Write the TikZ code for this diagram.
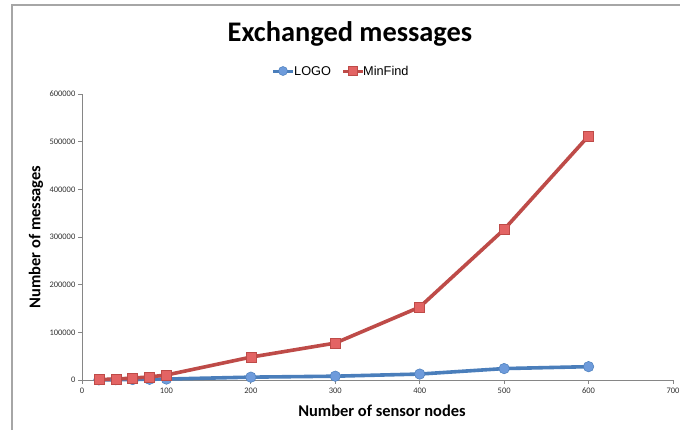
\documentclass[tikz,border=0pt]{standalone}
\usepackage{fontspec}
\setmainfont{Carlito}
\newfontfamily\arialfont{Liberation Sans}
\definecolor{framegray}{HTML}{A6A6A6}
\definecolor{axisgray}{HTML}{868686}
\definecolor{ticktext}{HTML}{303030}
\definecolor{logoline}{HTML}{4A7EBB}
\definecolor{logofill}{HTML}{6E9BDB}
\definecolor{findline}{HTML}{BE4B48}
\definecolor{findfill}{HTML}{E36464}
\begin{document}
\begin{tikzpicture}[x=1bp,y=-1bp,
  frame/.style={draw=framegray,line width=1.4bp},
  axisline/.style={draw=axisgray,line width=0.8bp},
  ticklab/.style={font=\fontsize{8.5}{9}\selectfont,text=ticktext,inner sep=0pt},
  axtitle/.style={font=\fontsize{16.5}{18}\selectfont\bfseries,inner sep=0pt},
  logoser/.style={draw=logoline,line width=3.6bp,line join=round},
  findser/.style={draw=findline,line width=3.6bp,line join=round},
  logomark/.style={circle,minimum size=10.5bp,inner sep=0pt,fill=logofill,draw=logoline,line width=0.5bp},
  findmark/.style={rectangle,minimum size=10bp,inner sep=0pt,fill=findfill,draw=findline,line width=0.5bp},
  legtext/.style={font=\arialfont\fontsize{12.8}{14}\selectfont,inner sep=0pt,anchor=west}
]
\useasboundingbox (0,0) rectangle (680,430);
\fill[white] (0,0) rectangle (680,430);
% outer frame
\coordinate (fb) at (12,430);
\coordinate (fc) at (12,5);
\coordinate (fr) at (680,5);
\draw[frame] (fb) -- (fc) -- (fr);
% title
\node[font=\fontsize{28.5}{32}\selectfont\bfseries,inner sep=0pt] (title) at (350,34) {Exchanged messages};
% legend
\coordinate (la) at (273,71);
\coordinate (lb) at (293,71);
\draw[logoser,line width=3bp] (la) -- (lb);
\node[logomark,minimum size=9bp] (lm) at (283,71) {};
\node[legtext] (lt) at (294,71) {LOGO};
\coordinate (ma) at (343,71);
\coordinate (mb) at (363,71);
\draw[findser,line width=3bp] (ma) -- (mb);
\node[findmark,minimum size=9bp] (mm) at (353,71) {};
\node[legtext] (mt) at (363,71) {MinFind};
% axes
\coordinate (o) at (82,380);
\coordinate (ytop) at (82,94);
\coordinate (xend) at (673,380);
\draw[axisline] (ytop) -- (o) -- (xend);
\foreach \i in {0,...,6}{
  \pgfmathsetmacro{\yy}{380-\i*286/6}
  \draw[axisline] (78,\yy) -- (82,\yy);
  \node[ticklab,anchor=east] (yl\i) at (75.5,\yy) {\ifnum\i=0 0\else\i00000\fi};
}
\foreach \i in {0,...,7}{
  \pgfmathsetmacro{\xx}{82+\i*591/7}
  \draw[axisline] (\xx,380) -- (\xx,384);
  \node[ticklab,anchor=north] (xl\i) at (\xx,388) {\ifnum\i=0 0\else\i00\fi};
}
\node[axtitle] (xt) at (382,411) {Number of sensor nodes};
\node[axtitle,rotate=90] (yt) at (36,237) {Number of messages};
% data (x in nodes, y in thousands of messages)
\begin{scope}[shift={(82,380)},x=0.8443bp,y=0.47667bp]
  \foreach \n/\xv/\yv in {1/20/0.3,2/40/0.6,3/60/1,4/80/1.5,5/100/2,6/200/6,7/300/8,8/400/12.5,9/500/24,10/600/28}
    \coordinate (L\n) at (\xv,\yv);
  \foreach \n/\xv/\yv in {1/20/1,2/40/2,3/60/4,4/80/6.5,5/100/10.5,6/200/48,7/300/77.5,8/400/153,9/500/316,10/600/512}
    \coordinate (M\n) at (\xv,\yv);
\end{scope}
\draw[logoser] (L1) \foreach \n in {2,...,10}{ -- (L\n)};
\draw[findser] (M1) \foreach \n in {2,...,10}{ -- (M\n)};
\foreach \n in {1,...,10}{
  \node[logomark] (LM\n) at (L\n) {};
}
\foreach \n in {1,...,10}{
  \node[findmark] (MM\n) at (M\n) {};
}
\end{tikzpicture}
\end{document}
